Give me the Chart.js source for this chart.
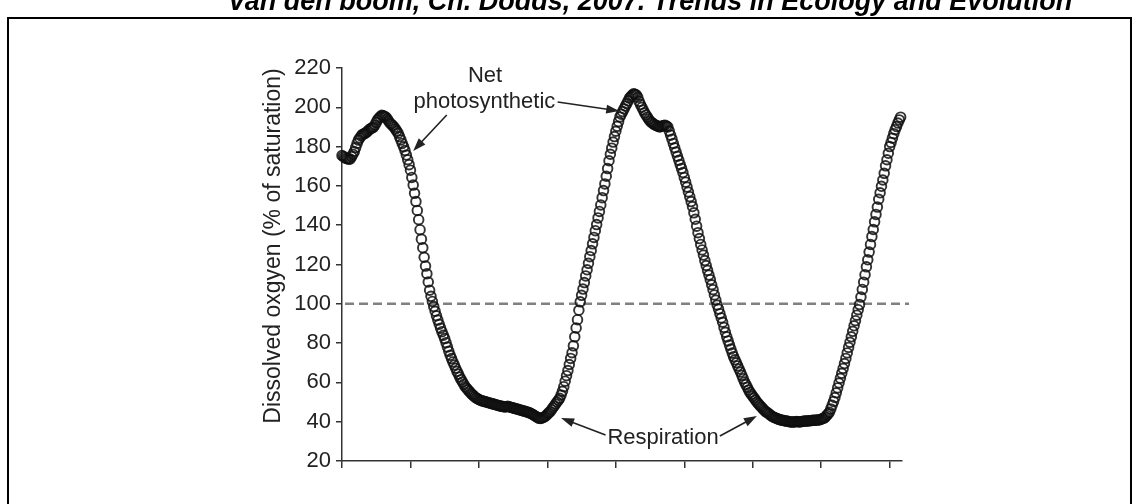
<!DOCTYPE html>
<html lang="en">
<head>
<meta charset="UTF-8">
<title>Dissolved oxygen</title>
<style>
  html, body { margin: 0; padding: 0; background: #fff; }
  #wrap { position: relative; width: 1139px; height: 504px; }
</style>
</head>
<body>
<div id="wrap"><canvas id="myChart"></canvas></div>

<script src="https://cdn.jsdelivr.net/npm/chart.js"></script>
<script>
// dissolved oxygen (% of saturation), one reading every 0.02 of an x unit
const v_oxygen = [
  175.5,175.0,174.5,174.0,173.8,173.6,173.7,174.9,176.1,177.5,
  179.5,181.6,183.3,184.4,185.4,186.2,186.5,186.8,187.3,188.0,
  188.7,189.2,189.5,189.9,190.9,192.3,193.6,194.5,195.2,195.9,
  195.7,195.4,195.0,194.1,193.0,192.0,191.4,190.7,189.9,188.9,
  187.9,186.8,185.1,183.4,181.6,179.9,178.0,175.7,173.3,170.8,
  168.0,164.3,160.4,156.2,152.0,147.5,142.8,137.7,132.9,128.5,
  123.7,119.2,115.3,111.1,106.9,103.8,101.2,98.6,96.2,93.9,
  91.7,89.6,87.6,85.8,84.0,82.3,80.2,78.0,75.8,73.8,
  72.1,70.4,68.8,67.2,65.6,64.2,62.7,61.4,60.2,59.0,
  57.8,57.0,56.2,55.4,54.6,53.9,53.3,52.6,52.1,51.7,
  51.3,50.9,50.7,50.5,50.3,50.1,49.9,49.7,49.5,49.3,
  49.1,48.9,48.7,48.5,48.3,48.1,47.9,47.8,47.6,47.5,
  47.6,47.8,47.6,47.4,47.2,47.0,46.8,46.6,46.4,46.2,
  46.0,45.8,45.6,45.4,45.2,45.0,44.8,44.5,44.2,43.8,
  43.4,42.9,42.5,42.1,41.7,41.6,41.9,42.2,42.5,43.0,
  43.8,44.5,45.1,46.1,47.1,48.0,49.0,50.0,50.9,51.9,
  53.6,55.5,57.8,60.6,63.4,66.0,69.1,72.2,75.1,78.6,
  83.2,87.7,91.9,96.7,101.0,104.3,107.5,110.8,114.2,117.3,
  120.6,124.0,127.1,130.5,133.8,137.2,140.3,143.7,147.0,150.3,
  154.0,157.6,161.0,164.9,168.8,172.8,176.1,179.2,182.3,185.1,
  187.8,190.3,192.7,195.1,196.5,197.8,199.2,200.6,201.9,203.3,
  204.7,205.5,206.2,206.9,206.6,206.2,205.1,203.0,201.4,200.0,
  198.6,197.2,196.1,195.0,193.9,192.9,192.4,191.8,191.3,190.9,
  190.6,190.3,190.0,190.2,190.5,190.8,190.9,190.4,190.0,187.9,
  185.8,183.8,181.6,179.4,177.2,175.1,173.0,170.9,168.9,166.8,
  164.3,161.9,159.4,156.9,154.5,152.0,149.5,146.3,143.0,139.5,
  136.2,133.2,130.2,127.4,124.8,122.0,119.5,117.0,114.6,112.3,
  109.7,107.2,104.5,101.9,99.4,97.3,95.0,92.8,90.6,88.0,
  85.5,83.2,81.1,79.0,77.0,74.9,73.1,71.5,70.0,68.4,
  66.8,65.3,63.6,61.9,60.2,58.9,57.5,56.1,54.9,53.9,
  52.9,52.0,51.0,50.0,49.2,48.4,47.7,46.9,46.1,45.4,
  44.9,44.4,43.9,43.3,42.8,42.4,42.1,41.8,41.5,41.2,
  41.0,40.8,40.7,40.5,40.4,40.3,40.1,40.0,39.9,39.8,
  39.9,40.0,40.1,40.0,39.9,40.0,40.1,40.2,40.3,40.3,
  40.4,40.5,40.5,40.6,40.7,40.7,40.8,40.9,40.9,41.0,
  41.3,41.6,41.8,42.3,43.2,44.0,44.8,46.5,48.4,50.3,
  52.3,54.7,57.2,59.7,62.1,64.6,67.1,69.6,72.2,75.0,
  77.8,80.4,83.2,86.0,88.8,91.4,94.2,97.0,99.6,103.4,
  107.3,111.0,114.8,118.8,122.4,126.3,130.2,134.2,137.8,141.7,
  145.5,149.2,153.2,156.5,159.8,163.0,166.4,170.2,173.3,176.6,
  180.0,182.1,184.3,186.6,188.6,190.2,192.0,193.6,195.0
];
const v_start = 0;
const v_step = 0.02;

const v_xTicks = [0, 1, 2, 3, 4, 5, 6, 7, 8];
const v_xMax = 8.18;
const v_yTicks = [20, 40, 60, 80, 100, 120, 140, 160, 180, 200, 220];
const v_saturation = 100;

const v_header = "Van den boom, Ch. Dodds, 2007. Trends in Ecology and Evolution";
const v_yTitle = "Dissolved oxgyen (% of saturation)";

// labels and arrows, in data units
const v_notes = [
  { text: "Net", x: 2.09, y: 212.9 },
  { text: "photosynthetic", x: 2.08, y: 199.6 },
  { text: "Respiration", x: 4.69, y: 28.7 }
];
const v_arrows = [
  { from: [1.53, 196.1], to: [1.04, 177.8] },
  { from: [3.15, 202.7], to: [4.05, 198.1] },
  { from: [3.85, 33.2], to: [3.20, 41.9] },
  { from: [5.52, 32.7], to: [6.06, 42.9] }
];

const FONT = '"Liberation Sans", Arial, sans-serif';

let v_points = [];
for (let i = 0; i < v_oxygen.length; i++) {
  v_points.push({ x: v_start + i * v_step, y: v_oxygen[i] });
}

const extras = {
  id: 'extras',
  beforeDatasetsDraw(chart) {
    const ctx = chart.ctx;
    const a = chart.chartArea;
    const y = chart.scales.y.getPixelForValue(v_saturation);
    ctx.save();
    ctx.strokeStyle = '#808080';
    ctx.lineWidth = 2.5;
    ctx.setLineDash([9, 5]);
    ctx.beginPath();
    ctx.moveTo(a.left + 3, y);
    ctx.lineTo(a.right + 7, y);
    ctx.stroke();
    ctx.restore();
  },
  afterDraw(chart) {
    const ctx = chart.ctx;
    const sx = chart.scales.x, sy = chart.scales.y;
    ctx.save();

    // frame
    ctx.strokeStyle = '#000';
    ctx.lineWidth = 2;
    ctx.beginPath();
    ctx.moveTo(8, 520);
    ctx.lineTo(8, 18);
    ctx.lineTo(1131, 18);
    ctx.lineTo(1131, 520);
    ctx.stroke();

    // header, cut at the top
    ctx.fillStyle = '#000';
    ctx.font = 'bold italic 27px ' + FONT;
    ctx.textAlign = 'center';
    ctx.textBaseline = 'alphabetic';
    ctx.fillText(v_header, 650, 10);

    // y title
    ctx.save();
    ctx.translate(274, 246);
    ctx.rotate(-Math.PI / 2);
    ctx.font = '23px ' + FONT;
    ctx.fillStyle = '#222';
    ctx.textBaseline = 'middle';
    ctx.fillText(v_yTitle, 0, 0);
    ctx.restore();

    // notes
    ctx.font = '22px ' + FONT;
    ctx.fillStyle = '#222';
    ctx.textAlign = 'center';
    ctx.textBaseline = 'alphabetic';
    v_notes.forEach(n => {
      ctx.fillText(n.text, sx.getPixelForValue(n.x), sy.getPixelForValue(n.y));
    });

    // arrows
    ctx.strokeStyle = '#222';
    ctx.lineWidth = 1.6;
    v_arrows.forEach(ar => {
      const x0 = sx.getPixelForValue(ar.from[0]), y0 = sy.getPixelForValue(ar.from[1]);
      const x1 = sx.getPixelForValue(ar.to[0]), y1 = sy.getPixelForValue(ar.to[1]);
      const ang = Math.atan2(y1 - y0, x1 - x0);
      const len = 13, w = 4.5;
      ctx.beginPath();
      ctx.moveTo(x0, y0);
      ctx.lineTo(x1 - Math.cos(ang) * len * 0.8, y1 - Math.sin(ang) * len * 0.8);
      ctx.stroke();
      const bx = x1 - Math.cos(ang) * len, by = y1 - Math.sin(ang) * len;
      ctx.beginPath();
      ctx.moveTo(x1, y1);
      ctx.lineTo(bx + Math.sin(ang) * w, by - Math.cos(ang) * w);
      ctx.lineTo(bx - Math.sin(ang) * w, by + Math.cos(ang) * w);
      ctx.closePath();
      ctx.fill();
    });
    ctx.restore();
  }
};

const ctx = document.querySelector("#myChart");
new Chart(ctx, {
  type: 'scatter',
  data: {
    datasets: [{
      data: v_points,
      showLine: false,
      pointRadius: 4.8,
      pointBorderWidth: 1.9,
      pointBorderColor: 'rgba(15,15,15,0.85)',
      pointBackgroundColor: 'rgba(0,0,0,0)',
      clip: 10
    }]
  },
  options: {
    responsive: true,
    maintainAspectRatio: false,
    animation: false,
    events: [],
    layout: { padding: { left: 258, right: 237, top: 68, bottom: 23 } },
    plugins: { legend: { display: false }, tooltip: { enabled: false } },
    scales: {
      x: {
        type: 'linear',
        min: 0,
        max: v_xMax,
        afterBuildTicks: s => { s.ticks = v_xTicks.map(v => ({ value: v })); },
        afterFit: s => { s.height = 20; },
        ticks: { display: false },
        grid: { drawOnChartArea: false, drawTicks: true, tickLength: 7, color: '#333', lineWidth: 1.5 },
        border: { display: true, color: '#333', width: 1.5 }
      },
      y: {
        min: 20,
        max: 220,
        afterBuildTicks: s => { s.ticks = v_yTicks.map(v => ({ value: v })); },
        afterFit: s => { s.width = 84; },
        ticks: { color: '#222', padding: 5, font: { family: FONT, size: 22 } },
        grid: { drawOnChartArea: false, drawTicks: true, tickLength: 6, color: '#333', lineWidth: 1.5 },
        border: { display: true, color: '#333', width: 1.5 }
      }
    }
  },
  plugins: [extras]
});
</script>
</body>
</html>
